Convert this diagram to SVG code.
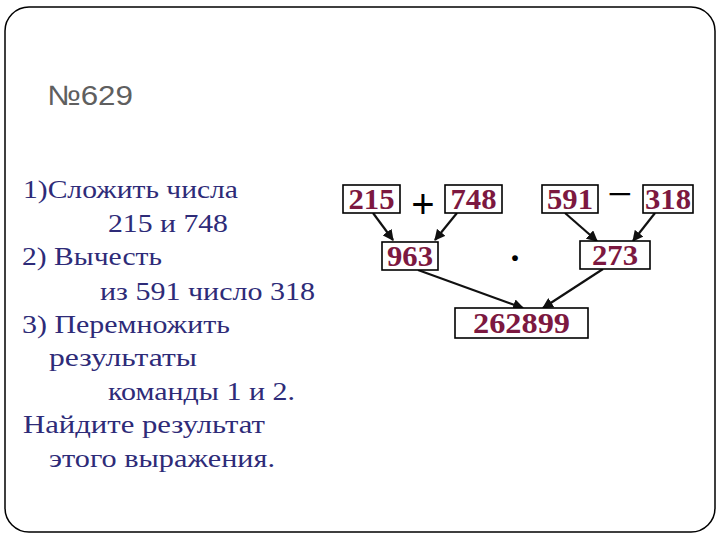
<svg xmlns="http://www.w3.org/2000/svg" width="720" height="540" viewBox="0 0 720 540">
<defs>
<style>
.frame{fill:#fff;stroke:#000;stroke-width:1.5}
.box{fill:#fff;stroke:#000;stroke-width:1.6}
.num{font-family:"Liberation Serif",serif;font-weight:bold;font-size:29px;fill:#7c1840;text-anchor:middle}
.task{font-family:"Liberation Serif",serif;font-size:25px;fill:#2e2b78}
.title{font-family:"Liberation Sans",sans-serif;font-size:28px;fill:#5f5f5f}
.op{font-family:"Liberation Serif",serif;fill:#000;text-anchor:middle}
.plus{font-family:"Liberation Sans",sans-serif;fill:#000;text-anchor:middle}
.conn line{stroke:#111;stroke-width:2.2;marker-end:url(#ah)}
</style>
<marker id="ah" viewBox="0 0 10 10" refX="9" refY="5" markerWidth="5" markerHeight="5" orient="auto" markerUnits="strokeWidth">
<path d="M0,0 L10,5 L0,10 z" fill="#111"/>
</marker>
</defs>
<rect class="frame" x="5" y="7" width="710" height="525" rx="24" ry="24"/>
<text class="title" x="47" y="105" textLength="86" lengthAdjust="spacingAndGlyphs">№629</text>
<g id="task">
<text class="task" x="23" y="198" textLength="215" lengthAdjust="spacingAndGlyphs">1)Сложить числа</text>
<text class="task" x="108" y="232" textLength="120" lengthAdjust="spacingAndGlyphs">215 и 748</text>
<text class="task" x="22" y="265" textLength="140" lengthAdjust="spacingAndGlyphs">2) Вычесть</text>
<text class="task" x="100" y="300" textLength="215" lengthAdjust="spacingAndGlyphs">из 591 число 318</text>
<text class="task" x="22" y="333" textLength="208" lengthAdjust="spacingAndGlyphs">3) Перемножить</text>
<text class="task" x="49" y="366" textLength="148" lengthAdjust="spacingAndGlyphs">результаты</text>
<text class="task" x="108" y="400" textLength="187" lengthAdjust="spacingAndGlyphs">команды 1 и 2.</text>
<text class="task" x="23" y="433" textLength="242" lengthAdjust="spacingAndGlyphs">Найдите результат</text>
<text class="task" x="49" y="467" textLength="226" lengthAdjust="spacingAndGlyphs">этого выражения.</text>
</g>
<g class="conn" id="connectors">
<line x1="373" y1="213" x2="393" y2="240"/>
<line x1="457" y1="213" x2="435" y2="240"/>
<line x1="565" y1="213" x2="597" y2="241"/>
<line x1="655" y1="213" x2="633" y2="241"/>
<line x1="418" y1="270" x2="523" y2="308"/>
<line x1="603" y1="269" x2="543" y2="308"/>
</g>
<g id="n215"><rect class="box" x="343" y="185" width="57" height="28"/><text class="num" x="371.5" y="209" textLength="46" lengthAdjust="spacingAndGlyphs">215</text></g>
<g id="n748"><rect class="box" x="445" y="185" width="57" height="28"/><text class="num" x="473.5" y="209" textLength="46" lengthAdjust="spacingAndGlyphs">748</text></g>
<g id="n591"><rect class="box" x="542" y="185" width="56" height="28"/><text class="num" x="570" y="209" textLength="46" lengthAdjust="spacingAndGlyphs">591</text></g>
<g id="n318"><rect class="box" x="643" y="185" width="50" height="28"/><text class="num" x="668" y="209" textLength="46" lengthAdjust="spacingAndGlyphs">318</text></g>
<g id="n963"><rect class="box" x="382" y="242" width="56" height="28"/><text class="num" x="410" y="266" textLength="46" lengthAdjust="spacingAndGlyphs">963</text></g>
<g id="n273"><rect class="box" x="580" y="241" width="70" height="28"/><text class="num" x="615" y="265" textLength="46" lengthAdjust="spacingAndGlyphs">273</text></g>
<g id="n262899"><rect class="box" x="455" y="308" width="133" height="30"/><text class="num" x="521.5" y="333" textLength="97" lengthAdjust="spacingAndGlyphs">262899</text></g>
<text class="plus" x="423" y="218" font-size="40">+</text>
<text class="op" x="620" y="209" font-size="44">−</text>
<text class="op" x="515" y="270" font-size="36" font-weight="bold">·</text>
</svg>
